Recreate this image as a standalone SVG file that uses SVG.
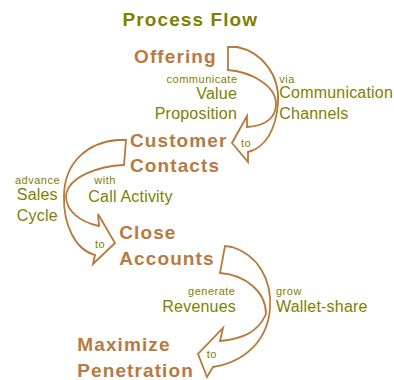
<svg xmlns="http://www.w3.org/2000/svg" width="394" height="380" viewBox="0 0 394 380">
<style>
.bg{fill:#ffffff}
.t{font-family:"Liberation Sans",Arial,sans-serif;font-weight:bold;font-size:19px;letter-spacing:1.1px}
.br{fill:#b87a40}
.ol{fill:#808000}
.m{font-family:"Liberation Sans",Arial,sans-serif;font-size:16px;letter-spacing:0.2px;fill:#808000}
.s{font-family:"Liberation Sans",Arial,sans-serif;font-size:11px;letter-spacing:0.5px;fill:#808000}
.arr path{fill:none;stroke:#b87a3a;stroke-width:1.8;stroke-linejoin:miter;stroke-linecap:round}
</style>
<rect class="bg" x="0" y="0" width="394" height="380"/>
<text id="title" class="t ol" x="122.5" y="26">Process Flow</text>
<g id="connectors" class="arr">
  <g id="arrow1">
    <path d="M237,47 L228,47 L228,70"/>
    <path d="M237,47 C262,52 280,75 278,103 C276,130 265,148 248,152"/>
    <path d="M228,70 C252,72 276,86 276,104 C276,118 265,126 247,127"/>
    <path d="M247,127 L247,116 L232,143 L248,162 L248,152"/>
  </g>
  <g id="arrow2">
    <path d="M118,140 L126,140 L124,165"/>
    <path d="M118,140 C90,142 65,160 64,195 C63,226 76,250 95,255"/>
    <path d="M124,165 C100,166 68,176 66,196 C66,211 80,222 99,226"/>
    <path d="M99,226 L98,214 L115,243 L93,264 L95,255"/>
  </g>
  <g id="arrow3">
    <path d="M232,247 L225,246 L220,273"/>
    <path d="M232,247 C258,255 272,280 270,308 C268,340 245,362 213,367"/>
    <path d="M220,273 C246,275 266,292 266,314 C258,333 241,339 220,341"/>
    <path d="M220,341 L223,328 L198,354 L207,377 L213,367"/>
  </g>
</g>
<g id="offering">
  <text class="t br" x="134" y="63">Offering</text>
</g>
<g id="value-label">
  <text class="s" x="237.5" y="83.3" text-anchor="end">communicate</text>
  <text class="m" x="237" y="99.3" text-anchor="end">Value</text>
  <text class="m" x="237" y="119.3" text-anchor="end">Proposition</text>
</g>
<g id="channels-label">
  <text class="s" x="279.3" y="83.3">via</text>
  <text class="m" x="279.3" y="98.3">Communication</text>
  <text class="m" x="279.3" y="119.3">Channels</text>
</g>
<text class="s" x="241" y="146.7">to</text>
<g id="customer-contacts">
  <text class="t br" x="130" y="146.7">Customer</text>
  <text class="t br" x="130" y="172.3">Contacts</text>
</g>
<g id="sales-label">
  <text class="s" x="37.5" y="184.3" text-anchor="middle">advance</text>
  <text class="m" x="37.3" y="200" text-anchor="middle">Sales</text>
  <text class="m" x="37.3" y="220.7" text-anchor="middle">Cycle</text>
</g>
<g id="call-label">
  <text class="s" x="94.3" y="184.3">with</text>
  <text class="m" x="88.3" y="201.7">Call Activity</text>
</g>
<text class="s" x="95" y="247.7">to</text>
<g id="close-accounts">
  <text class="t br" x="119.3" y="239.3">Close</text>
  <text class="t br" x="119.3" y="264.5">Accounts</text>
</g>
<g id="revenues-label">
  <text class="s" x="235.5" y="295.3" text-anchor="end">generate</text>
  <text class="m" x="236" y="312.3" text-anchor="end">Revenues</text>
</g>
<g id="wallet-label">
  <text class="s" x="276" y="295.3">grow</text>
  <text class="m" x="276" y="312.3">Wallet-share</text>
</g>
<text class="s" x="206.7" y="358.3">to</text>
<g id="maximize-penetration">
  <text class="t br" x="77.3" y="350.7">Maximize</text>
  <text class="t br" x="77.3" y="376.7">Penetration</text>
</g>
</svg>
